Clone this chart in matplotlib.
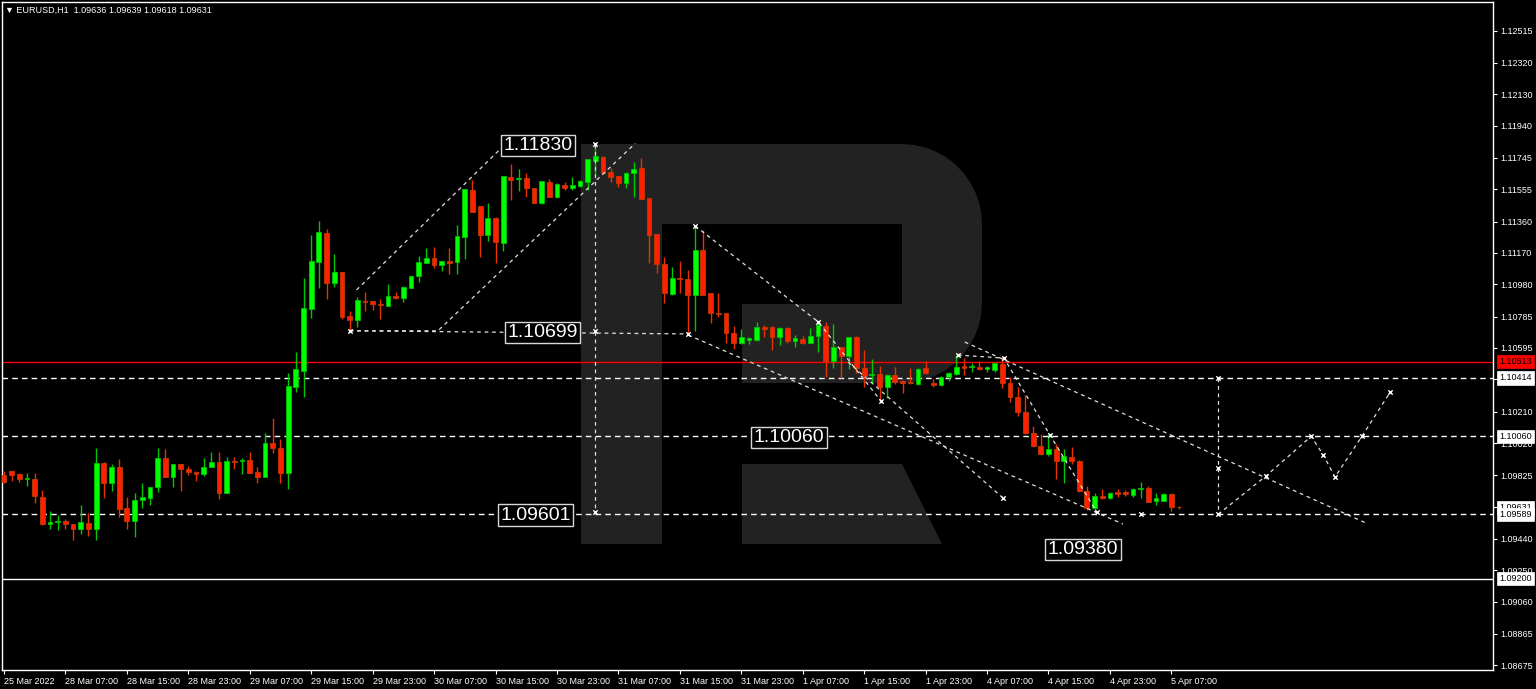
import matplotlib
matplotlib.use("Agg")
import matplotlib.pyplot as plt
from matplotlib.patches import Polygon
from matplotlib.transforms import Affine2D, blended_transform_factory
import numpy as np

# EURUSD H1 candles (index 0 = 25 Mar 23:00)
opens = [1.09826, 1.09852, 1.09831, 1.09802, 1.09802, 1.09695, 1.09530, 1.09540, 1.09548, 1.09532,
         1.09500, 1.09538, 1.09500, 1.09897, 1.09780, 1.09873, 1.09625, 1.09550, 1.09675, 1.09685,
         1.09752, 1.09927, 1.09816, 1.09893, 1.09863, 1.09843, 1.09832, 1.09873, 1.09903, 1.09719,
         1.09913, 1.09911, 1.09917, 1.09843, 1.09816, 1.10022, 1.09988, 1.09837, 1.10361, 1.10457,
         1.10831, 1.11117, 1.11289, 1.10986, 1.11056, 1.10788, 1.10764, 1.10879, 1.10879, 1.10861,
         1.10849, 1.10911, 1.10895, 1.10959, 1.11030, 1.11107, 1.11137, 1.11097, 1.11121, 1.11115,
         1.11268, 1.11551, 1.11454, 1.11278, 1.11379, 1.11232, 1.11631, 1.11615, 1.11621, 1.11561,
         1.11474, 1.11601, 1.11510, 1.11581, 1.11564, 1.11577, 1.11601, 1.11728, 1.11752, 1.11658,
         1.11635, 1.11591, 1.11651, 1.11682, 1.11500, 1.11282, 1.11103, 1.10921, 1.11016, 1.11010,
         1.10915, 1.11188, 1.10926, 1.10808, 1.10808, 1.10684, 1.10627, 1.10643, 1.10643, 1.10720,
         1.10720, 1.10659, 1.10714, 1.10639, 1.10647, 1.10627, 1.10667, 1.10728, 1.10518, 1.10599,
         1.10546, 1.10659, 1.10472, 1.10431, 1.10437, 1.10360, 1.10431, 1.10395, 1.10391, 1.10375,
         1.10472, 1.10385, 1.10371, 1.10421, 1.10437, 1.10486, 1.10478, 1.10482, 1.10466, 1.10462,
         1.10498, 1.10381, 1.10300, 1.10209, 1.10082, 1.10002, 1.09953, 1.09982, 1.09913, 1.09933,
         1.09913, 1.09731, 1.09625, 1.09699, 1.09685, 1.09725, 1.09722, 1.09705, 1.09740, 1.09746,
         1.09671, 1.09671, 1.09711, 1.09636]
highs = [1.09850, 1.09857, 1.09837, 1.09837, 1.09837, 1.09736, 1.09608, 1.09582, 1.09558, 1.09532,
         1.09645, 1.09595, 1.09988, 1.09907, 1.09893, 1.09923, 1.09691, 1.09716, 1.09776, 1.09752,
         1.09988, 1.09984, 1.09893, 1.09893, 1.09881, 1.09850, 1.09927, 1.09967, 1.09964, 1.09937,
         1.09937, 1.09927, 1.09964, 1.09876, 1.10079, 1.10173, 1.10042, 1.10445, 1.10569, 1.11018,
         1.11278, 1.11363, 1.11315, 1.11163, 1.11056, 1.10818, 1.10905, 1.10935, 1.10879, 1.10889,
         1.10982, 1.10934, 1.10970, 1.11032, 1.11151, 1.11198, 1.11204, 1.11121, 1.11198, 1.11339,
         1.11557, 1.11611, 1.11454, 1.11470, 1.11389, 1.11635, 1.11706, 1.11676, 1.11652, 1.11561,
         1.11607, 1.11615, 1.11595, 1.11597, 1.11631, 1.11611, 1.11736, 1.11830, 1.11756, 1.11682,
         1.11635, 1.11661, 1.11722, 1.11746, 1.11500, 1.11282, 1.11147, 1.11086, 1.11121, 1.11067,
         1.11333, 1.11309, 1.10929, 1.10929, 1.10808, 1.10728, 1.10708, 1.10663, 1.10754, 1.10734,
         1.10728, 1.10720, 1.10720, 1.10673, 1.10667, 1.10714, 1.10754, 1.10754, 1.10740, 1.10599,
         1.10659, 1.10667, 1.10583, 1.10526, 1.10486, 1.10437, 1.10482, 1.10401, 1.10472, 1.10474,
         1.10518, 1.10405, 1.10425, 1.10451, 1.10552, 1.10532, 1.10506, 1.10518, 1.10486, 1.10506,
         1.10538, 1.10417, 1.10357, 1.10310, 1.10123, 1.10074, 1.10074, 1.10014, 1.09982, 1.09997,
         1.09917, 1.09760, 1.09719, 1.09740, 1.09722, 1.09740, 1.09736, 1.09746, 1.09786, 1.09760,
         1.09716, 1.09717, 1.09716, 1.09639]
lows = [1.09778, 1.09792, 1.09786, 1.09760, 1.09659, 1.09524, 1.09498, 1.09494, 1.09498, 1.09433,
        1.09469, 1.09457, 1.09433, 1.09685, 1.09731, 1.09574, 1.09498, 1.09453, 1.09628, 1.09645,
        1.09725, 1.09816, 1.09755, 1.09731, 1.09826, 1.09792, 1.09820, 1.09873, 1.09679, 1.09716,
        1.09861, 1.09832, 1.09837, 1.09780, 1.09816, 1.09961, 1.09780, 1.09740, 1.10330, 1.10300,
        1.10774, 1.10959, 1.10891, 1.10965, 1.10768, 1.10699, 1.10723, 1.10818, 1.10825, 1.10768,
        1.10849, 1.10891, 1.10871, 1.10959, 1.10996, 1.11107, 1.11080, 1.11062, 1.11042, 1.11042,
        1.11131, 1.11419, 1.11147, 1.11244, 1.11107, 1.11183, 1.11490, 1.11544, 1.11510, 1.11474,
        1.11468, 1.11506, 1.11500, 1.11551, 1.11551, 1.11569, 1.11551, 1.11635, 1.11647, 1.11601,
        1.11570, 1.11561, 1.11506, 1.11496, 1.11111, 1.11047, 1.10869, 1.10915, 1.10929, 1.10680,
        1.10699, 1.10915, 1.10748, 1.10784, 1.10627, 1.10587, 1.10619, 1.10619, 1.10639, 1.10663,
        1.10583, 1.10613, 1.10627, 1.10602, 1.10619, 1.10627, 1.10572, 1.10421, 1.10472, 1.10411,
        1.10466, 1.10442, 1.10360, 1.10381, 1.10275, 1.10290, 1.10377, 1.10321, 1.10377, 1.10371,
        1.10437, 1.10360, 1.10365, 1.10397, 1.10431, 1.10431, 1.10451, 1.10461, 1.10451, 1.10451,
        1.10351, 1.10270, 1.10183, 1.10074, 1.09994, 1.09947, 1.09941, 1.09800, 1.09780, 1.09893,
        1.09725, 1.09615, 1.09595, 1.09679, 1.09682, 1.09695, 1.09699, 1.09695, 1.09685, 1.09661,
        1.09645, 1.09669, 1.09611, 1.09618]
closes = [1.09786, 1.09826, 1.09804, 1.09808, 1.09699, 1.09530, 1.09544, 1.09548, 1.09530, 1.09500,
          1.09544, 1.09500, 1.09897, 1.09780, 1.09876, 1.09621, 1.09550, 1.09675, 1.09691, 1.09752,
          1.09927, 1.09816, 1.09893, 1.09861, 1.09843, 1.09832, 1.09873, 1.09903, 1.09719, 1.09911,
          1.09907, 1.09917, 1.09837, 1.09816, 1.10022, 1.09988, 1.09837, 1.10367, 1.10466, 1.10837,
          1.11121, 1.11296, 1.10986, 1.11056, 1.10784, 1.10764, 1.10885, 1.10871, 1.10859, 1.10853,
          1.10911, 1.10895, 1.10962, 1.11032, 1.11115, 1.11137, 1.11097, 1.11121, 1.11107, 1.11272,
          1.11557, 1.11419, 1.11278, 1.11379, 1.11238, 1.11635, 1.11611, 1.11621, 1.11564, 1.11474,
          1.11607, 1.11510, 1.11587, 1.11564, 1.11581, 1.11605, 1.11736, 1.11756, 1.11655, 1.11631,
          1.11591, 1.11655, 1.11676, 1.11496, 1.11278, 1.11103, 1.10926, 1.11016, 1.11010, 1.10915,
          1.11188, 1.10915, 1.10805, 1.10798, 1.10684, 1.10627, 1.10663, 1.10657, 1.10720, 1.10710,
          1.10659, 1.10714, 1.10639, 1.10653, 1.10627, 1.10667, 1.10734, 1.10518, 1.10599, 1.10546,
          1.10659, 1.10472, 1.10425, 1.10437, 1.10357, 1.10431, 1.10391, 1.10385, 1.10381, 1.10466,
          1.10442, 1.10371, 1.10421, 1.10445, 1.10482, 1.10474, 1.10486, 1.10466, 1.10482, 1.10502,
          1.10381, 1.10300, 1.10209, 1.10082, 1.10002, 1.09953, 1.09982, 1.09913, 1.09941, 1.09913,
          1.09731, 1.09625, 1.09699, 1.09685, 1.09719, 1.09711, 1.09711, 1.09740, 1.09746, 1.09665,
          1.09685, 1.09711, 1.09631, 1.09631]

# time axis labels every 8 bars
tick_idx = list(range(0, 153, 8))
tick_labels = ["25 Mar 2022", "28 Mar 07:00", "28 Mar 15:00", "28 Mar 23:00", "29 Mar 07:00",
               "29 Mar 15:00", "29 Mar 23:00", "30 Mar 07:00", "30 Mar 15:00", "30 Mar 23:00",
               "31 Mar 07:00", "31 Mar 15:00", "31 Mar 23:00", "1 Apr 07:00", "1 Apr 15:00",
               "1 Apr 23:00", "4 Apr 07:00", "4 Apr 15:00", "4 Apr 23:00", "5 Apr 07:00"]
price_ticks = [1.12515, 1.12320, 1.12130, 1.11940, 1.11745, 1.11555, 1.11360, 1.11170, 1.10980,
               1.10785, 1.10595, 1.10405, 1.10210, 1.10020, 1.09825, 1.09635, 1.09440, 1.09250,
               1.09060, 1.08865, 1.08675]

# horizontal levels
red_level = 1.10513
dashed_levels = [1.10414, 1.10060, 1.09589]
solid_level = 1.09200
bid_price = 1.09631

# trend lines (bar index, price)
trend_segments = [
    [(45.9, 1.10946), (64.5, 1.11793)],
    [(45.0, 1.10699), (56.5, 1.10699), (82.2, 1.11833)],
    [(45.0, 1.10699), (89.0, 1.10680)],
    [(77.0, 1.11830), (77.0, 1.09601)],
    [(90.0, 1.11333), (106.0, 1.10754), (114.2, 1.10274)],
    [(109.9, 1.10510), (130.1, 1.09687)],
    [(89.1, 1.10673), (145.7, 1.09530)],
    [(125.1, 1.10631), (177.2, 1.09539)],
    [(124.2, 1.10552), (130.2, 1.10534), (136.2, 1.10068), (142.3, 1.09602)],
    [(158.1, 1.10414), (158.1, 1.09589)],
]
forecast_x = [158.1, 164.3, 170.2, 171.8, 173.3, 176.8, 180.5]
forecast_y = [1.09589, 1.09820, 1.10060, 1.09947, 1.09814, 1.10060, 1.10328]
anchor_x = [45.0, 77.0, 77.0, 77.0, 89.0, 90.0, 106.0, 114.2, 124.2, 130.2, 136.2, 142.3,
            130.1, 148.0, 158.1, 158.1]
anchor_y = [1.10699, 1.11830, 1.10699, 1.09601, 1.10680, 1.11333, 1.10754, 1.10274, 1.10552,
            1.10534, 1.10068, 1.09602, 1.09687, 1.09589, 1.10414, 1.09870]

# price labels (text, bar index, price)
label_text = ["1.11830", "1.10699", "1.10060", "1.09601", "1.09380"]
label_x = [69.5, 70.1, 102.2, 69.2, 140.5]
label_y = [1.11820, 1.10688, 1.10053, 1.09584, 1.09376]

W, H = 1536, 689
fig = plt.figure(figsize=(W / 100, H / 100), dpi=100, facecolor="black")
ax = fig.add_axes([2 / W, 19 / H, 1491 / W, 668 / H], facecolor="black")
ax.set_xlim(-0.26, 193.88)
ax.set_ylim(1.08647, 1.12688)

# watermark "R" in figure pixels
pix = Affine2D().scale(1 / W, -1 / H).translate(0, 1) + fig.transFigure
t1 = np.linspace(np.pi / 2, 0, 12)
t2 = np.linspace(0, -np.pi / 2, 12)
r_pts = [(581, 144), (902, 144)]
r_pts += [(902 + 80 * np.cos(t), 224 - 80 * np.sin(t)) for t in t1]
r_pts += [(902 + 80 * np.cos(t), 303 - 80 * np.sin(t)) for t in t2]
r_pts += [(742, 383), (742, 304), (902, 304), (902, 224), (662, 224), (662, 544), (581, 544)]
ax.add_patch(Polygon(r_pts, closed=True, fc="#222222", ec="none", transform=pix, zorder=0))
ax.add_patch(Polygon([(742, 464), (902, 464), (942, 544), (742, 544)], closed=True,
                     fc="#222222", ec="none", transform=pix, zorder=0))

# levels
ax.axhline(red_level, color="#ff0000", lw=1.0, zorder=2)
for lv in dashed_levels:
    ax.axhline(lv, color="white", lw=1.0, ls=(0, (4, 3)), zorder=2)
ax.axhline(solid_level, color="white", lw=1.0, zorder=2)

# candles
o = np.array(opens); h = np.array(highs); l = np.array(lows); c = np.array(closes)
idx = np.arange(len(o))
up = c >= o
ax.vlines(idx[up], l[up], h[up], color="#00c800", lw=1.0, zorder=3)
ax.vlines(idx[~up], l[~up], h[~up], color="#e83200", lw=1.0, zorder=3)
body_lo = np.minimum(o, c)
body_h = np.maximum(np.abs(c - o), 0.000025)
ax.bar(idx[up], body_h[up], bottom=body_lo[up], width=0.62, color="#00ff00",
       edgecolor="#00c000", lw=0.6, zorder=4)
ax.bar(idx[~up], body_h[~up], bottom=body_lo[~up], width=0.62, color="#ff2000",
       edgecolor="#c03a00", lw=0.6, zorder=4)

# analysis lines
for seg in trend_segments:
    xs, ys = zip(*seg)
    ax.plot(xs, ys, color="#e0e0e0", lw=0.9, ls=(0, (3, 3)), zorder=5)
ax.plot(forecast_x, forecast_y, color="#e0e0e0", lw=0.9, ls=(0, (3, 3)), zorder=5)
ax.scatter(anchor_x + forecast_x, anchor_y + forecast_y, marker="x", s=10, color="white",
           lw=1.0, zorder=6)

for txt, lx, ly in zip(label_text, label_x, label_y):
    ax.text(lx, ly, txt, color="white", fontsize=14, family="Liberation Sans",
            ha="center", va="center", zorder=7,
            bbox=dict(boxstyle="square,pad=0.12", fc="black", ec="#d8d8d8", lw=1.0))

# title
ax.text(3 / 1491, 1 - 8 / 668, "\u25bc EURUSD,H1  1.09636 1.09639 1.09618 1.09631",
        transform=ax.transAxes, color="white", fontsize=6.5,
        family=["Liberation Sans", "DejaVu Sans"], va="center", ha="left")

# axes styling
for s in ax.spines.values():
    s.set_color("white")
    s.set_linewidth(1.0)
ax.yaxis.tick_right()
ax.set_yticks(price_ticks)
ax.set_yticklabels([f"{p:.5f}" for p in price_ticks])
ax.set_xticks(tick_idx)
ax.set_xticklabels(tick_labels, ha="left")
ax.tick_params(axis="both", colors="white", labelsize=6.5, length=3, width=0.8,
               direction="out", pad=2)
for lab in ax.get_xticklabels() + ax.get_yticklabels():
    lab.set_family("Liberation Sans")
    lab.set_color("white")

# right-axis price boxes
bt = blended_transform_factory(ax.transAxes, ax.transData)
box_specs = [(bid_price, "white", "black"), (1.10414, "white", "black"), (1.10060, "white", "black"),
             (1.09589, "white", "black"), (solid_level, "white", "black"), (red_level, "#ff0000", "black")]
for pv, fcol, tcol in box_specs:
    ax.text(1 + 6 / 1491, pv, f"{pv:.5f}", transform=bt, color=tcol, fontsize=6.5,
            family="Liberation Sans", ha="left", va="center", zorder=8, clip_on=False,
            bbox=dict(boxstyle="square,pad=0.25", fc=fcol, ec=fcol, lw=0.5))

fig.savefig("out.png", dpi=100, facecolor="black")
